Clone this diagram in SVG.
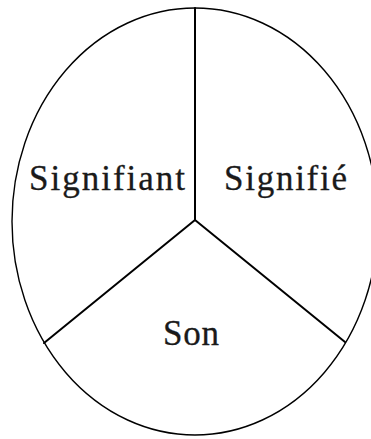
<svg xmlns="http://www.w3.org/2000/svg" width="371" height="439" viewBox="0 0 371 439">
<style>
.outline{fill:none;stroke:#000;stroke-width:1.4}
.div{fill:none;stroke:#000;stroke-width:2;stroke-linecap:round;stroke-linejoin:round}
.lbl{font-family:"Liberation Serif","Times New Roman",serif;font-size:35px;fill:#1a1a1a;stroke:#1a1a1a;stroke-width:0.3}
</style>
<rect width="371" height="439" fill="#fff"/>
<g id="circle">
<ellipse class="outline" cx="195" cy="221.5" rx="183" ry="213.5"/>
</g>
<g id="connectors">
<line class="div" x1="195" y1="8" x2="195" y2="220"/>
<line class="div" x1="195" y1="220" x2="44" y2="343"/>
<line class="div" x1="195" y1="220" x2="345" y2="342"/>
</g>
<g id="signifiant">
<text class="lbl" x="29" y="190" textLength="156" lengthAdjust="spacing">Signifiant</text>
</g>
<g id="signifie">
<text class="lbl" x="224" y="190" textLength="123" lengthAdjust="spacing">Signifié</text>
</g>
<g id="son">
<text class="lbl" x="163" y="345" textLength="56" lengthAdjust="spacing">Son</text>
</g>
</svg>
